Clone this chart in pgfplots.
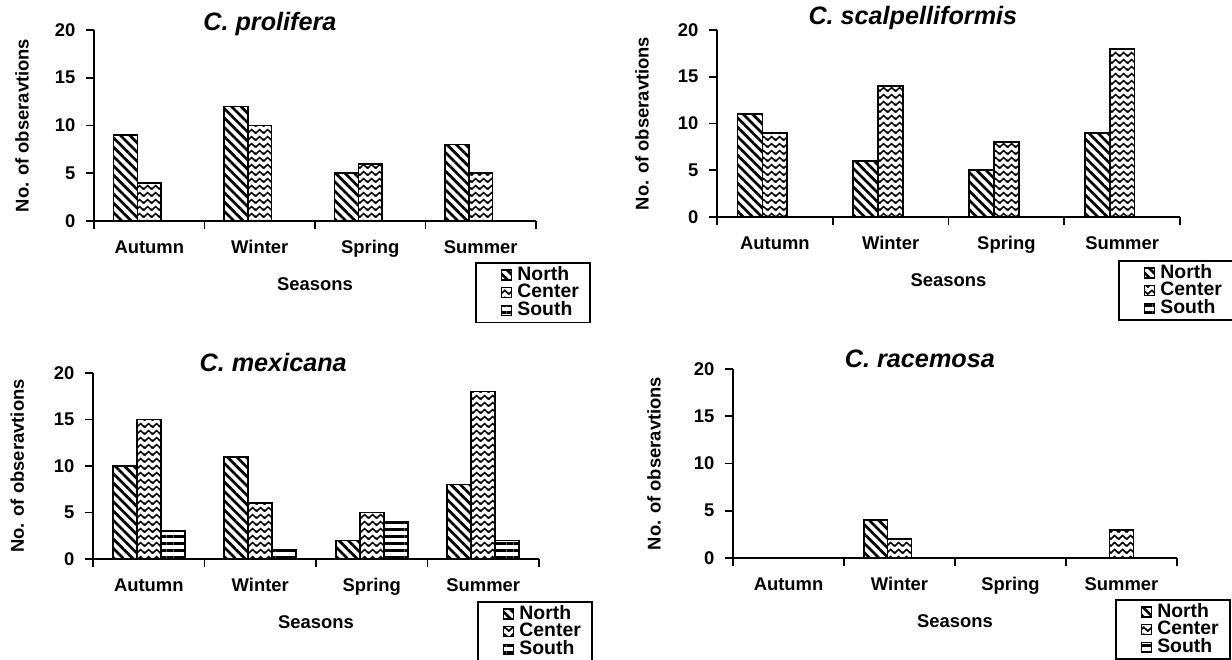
\documentclass[border=0pt]{standalone}
\usepackage{fontspec}
\setmainfont{Liberation Sans}
\usepackage{pgfplots}
\pgfplotsset{compat=1.18}
\usetikzlibrary{patterns.meta}

\pgfdeclarepattern{
  name=zigzag, type=uncolored,
  bottom left={\pgfpoint{0pt}{0pt}},
  top right={\pgfpoint{3.8pt}{3.5pt}},
  tile size={\pgfpoint{3.8pt}{3.5pt}},
  code={
    \pgfsetlinewidth{0.85pt}
    \pgfpathmoveto{\pgfpoint{-0.95pt}{1.55pt}}
    \pgfpathlineto{\pgfpoint{0pt}{0.6pt}}
    \pgfpathlineto{\pgfpoint{1.9pt}{2.5pt}}
    \pgfpathlineto{\pgfpoint{3.8pt}{0.6pt}}
    \pgfpathlineto{\pgfpoint{4.75pt}{1.55pt}}
    \pgfusepath{stroke}
  }
}

\tikzset{
  northpat/.style={pattern={Lines[angle=-45,distance=3.3pt,line width=1.35pt]}},
  centerpat/.style={pattern=zigzag},
  southpat/.style={pattern={Lines[angle=0,distance=3.4pt,line width=1.4pt]}},
}

\pgfplotsset{
  every axis title shift=0pt,
  panel/.style={
    scale only axis, ybar,
    ymin=0, ymax=20, ytick={0,5,10,15,20},
    xmin=-0.5, xmax=3.5, xtick={0,1,2,3},
    xticklabels={Autumn,Winter,Spring,Summer},
    minor xtick={-0.5,0.5,1.5,2.5,3.5},
    axis x line*=bottom, axis y line*=left,
    axis line style={line width=1pt,-},
    tick align=outside, major tick length=3.8pt, minor tick length=3.8pt,
    every tick/.style={line width=0.9pt, black},
    major x tick style={draw=none},
    /pgf/number format/assume math mode=true,
    tick label style={font=\fontsize{9.2}{11}\selectfont\bfseries},
    yticklabel style={xshift=-2pt},
    xticklabel style={anchor=base, yshift=-12.5pt},
    xlabel={Seasons}, ylabel={No. of obseravtions},
    label style={font=\fontsize{9.2}{11}\selectfont\bfseries},
    xlabel style={at={(axis description cs:0.5,0)}, anchor=center, yshift=-31.5pt},
    title style={font=\fontsize{12.6}{14}\selectfont\bfseries\itshape},
    bar width=0.215,
    every axis plot post/.append style={
      legend image code/.code={\path (0pt,0pt); \draw[##1, line width=0.7pt] (7pt,-2.5pt) rectangle (12pt,2.5pt);}
    },
    legend cell align=left,
    legend style={anchor=north west, draw=black, line width=0.9pt,
      font=\fontsize{9.7}{10}\selectfont\bfseries,
      inner xsep=5.5pt, inner ysep=1.8pt,
      row sep=0.4pt, column sep=2.5pt,
      nodes={inner sep=0pt},
    },
  },
  N/.style={draw=black, line width=0.85pt, northpat, bar shift=-0.215},
  C/.style={draw=black, line width=0.85pt, centerpat, bar shift=0},
  S/.style={draw=black, line width=0.85pt, southpat, bar shift=0.215},
}

\begin{document}
\begin{tikzpicture}
\path[use as bounding box] (0,0) rectangle (616pt,-329.5pt);

% Panel 1: C. prolifera
\begin{axis}[panel, at={(47pt,-110.5pt)}, anchor=south west,
  width=221pt, height=95.5pt,
  title={C. prolifera},
  title style={at={(axis description cs:0.398,1.03)}, anchor=center, yshift=0pt},
  ylabel style={at={(axis description cs:-0.163,0.5)}, anchor=center},
  legend style={at={(0.862,-0.215)}},
]
\addplot[N] coordinates {(0,9) (1,12) (2,5) (3,8)};
\addplot[C] coordinates {(0,4) (1,10) (2,6) (3,5)};
\addplot[S] coordinates {(0,0) (1,0) (2,0) (3,0)};
\legend{North,Center,South}
\end{axis}

% Panel 2: C. scalpelliformis
\begin{axis}[panel, at={(358.5pt,-108.5pt)}, anchor=south west,
  width=231.5pt, height=93.5pt,
  title={C. scalpelliformis},
  title style={at={(axis description cs:0.423,1.064)}, anchor=center, yshift=0pt},
  ylabel style={at={(axis description cs:-0.162,0.5)}, anchor=center},
  legend style={at={(0.866,-0.23)}},
]
\addplot[N] coordinates {(0,11) (1,6) (2,5) (3,9)};
\addplot[C] coordinates {(0,9) (1,14) (2,8) (3,18)};
\addplot[S] coordinates {(0,0) (1,0) (2,0) (3,0)};
\legend{North,Center,South}
\end{axis}

% Panel 3: C. mexicana
\begin{axis}[panel, at={(46.5pt,-279.5pt)}, anchor=south west,
  width=223pt, height=93pt,
  title={C. mexicana},
  title style={at={(axis description cs:0.404,1.054)}, anchor=center, yshift=0pt},
  ylabel style={at={(axis description cs:-0.17,0.5)}, anchor=center},
  legend style={at={(0.861,-0.226)}},
]
\addplot[N] coordinates {(0,10) (1,11) (2,2) (3,8)};
\addplot[C] coordinates {(0,15) (1,6) (2,5) (3,18)};
\addplot[S] coordinates {(0,3) (1,1) (2,4) (3,2)};
\legend{North,Center,South}
\end{axis}

% Panel 4: C. racemosa
\begin{axis}[panel, at={(366.5pt,-279pt)}, anchor=south west,
  width=222pt, height=94.5pt,
  title={C. racemosa},
  title style={at={(axis description cs:0.421,1.053)}, anchor=center, yshift=0pt},
  ylabel style={at={(axis description cs:-0.178,0.5)}, anchor=center},
  legend style={at={(0.86,-0.217)}},
]
\addplot[N] coordinates {(0,0) (1,4) (2,0) (3,0)};
\addplot[C] coordinates {(0,0) (1,2) (2,0) (3,3)};
\addplot[S] coordinates {(0,0) (1,0) (2,0) (3,0)};
\legend{North,Center,South}
\end{axis}
\end{tikzpicture}
\end{document}
